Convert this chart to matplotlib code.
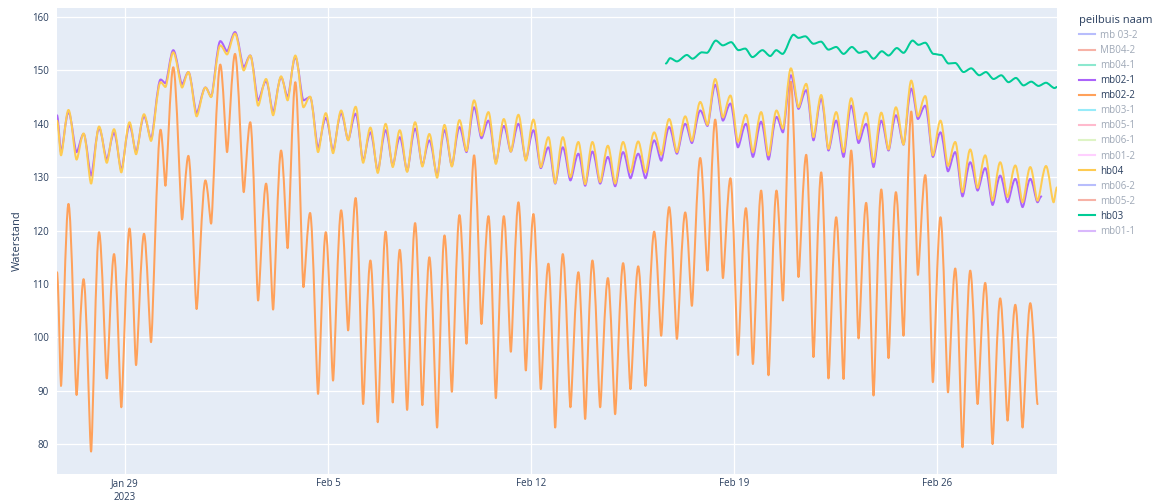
import numpy as np
import pandas as pd
import matplotlib
matplotlib.use("Agg")
import matplotlib.pyplot as plt
import matplotlib.dates as mdates
from matplotlib.lines import Line2D
from matplotlib.path import Path
from matplotlib.patches import PathPatch

plt.rcParams['font.family'] = ['Open Sans', 'DejaVu Sans']

# hours after 2023-01-26 00:00 of the tidal highs/lows (shared by mb02-1, mb02-2, hb04)
t_hours = [15.7, 19.0, 25.2, 31.9, 37.7, 43.9, 50.5, 56.9, 62.9, 68.9,
           75.7, 81.1, 87.7, 93.5, 101.4, 105.4, 111.9, 119.2, 124.4, 131.2,
           138.5, 143.2, 150.8, 156.4, 163.0, 170.2, 175.6, 182.1, 188.7, 194.5,
           201.1, 206.5, 212.9, 219.6, 225.1, 231.7, 238.1, 244.1, 250.8, 256.6,
           262.8, 269.0, 275.0, 281.1, 287.6, 293.5, 299.3, 305.4, 312.0, 318.0,
           323.8, 330.2, 336.3, 342.4, 348.7, 354.5, 360.8, 366.9, 372.7, 378.8,
           385.4, 391.2, 397.5, 403.6, 409.9, 416.0, 422.3, 427.9, 434.2, 440.5,
           447.1, 452.7, 458.7, 465.1, 471.5, 477.5, 484.1, 490.2, 496.6, 502.6,
           509.8, 515.6, 522.2, 528.6, 535.5, 541.0, 547.9, 553.9, 560.3, 566.7,
           572.9, 579.1, 585.7, 591.5, 598.3, 604.4, 611.0, 616.3, 622.9, 629.2,
           635.6, 641.6, 648.0, 654.0, 660.4, 666.5, 672.8, 678.9, 685.2, 691.3,
           697.7, 703.7, 709.8, 716.1, 722.5, 728.0, 734.1, 740.4, 746.7, 752.9,
           758.9, 764.9, 771.3, 777.4, 783.7, 789.8, 796.1, 802.2, 808.6, 814.6,
           821.0, 827.0]

mb02_2 = [112.2, 90.9, 125.0, 89.2, 110.9, 78.6, 119.7, 92.3, 115.6, 86.9,
          120.4, 94.8, 119.4, 99.1, 138.9, 128.4, 150.6, 122.1, 134.0, 105.3,
          129.4, 121.3, 151.1, 134.7, 153.1, 127.2, 140.3, 106.9, 128.8, 105.2,
          135.0, 116.7, 147.8, 109.4, 123.3, 89.4, 119.7, 91.9, 123.8, 101.3,
          126.1, 87.5, 114.4, 84.1, 119.8, 87.8, 116.4, 86.4, 121.4, 87.3,
          115.0, 83.1, 119.1, 89.8, 122.9, 98.8, 134.1, 102.5, 122.7, 88.6,
          122.7, 97.3, 125.3, 93.8, 123.1, 90.3, 113.8, 83.1, 115.6, 86.9,
          112.2, 84.7, 114.4, 86.9, 111.1, 85.6, 113.9, 90.3, 113.3, 90.9,
          119.8, 100.3, 124.4, 99.7, 123.4, 105.9, 133.6, 112.5, 140.8, 111.1,
          129.8, 96.7, 124.2, 95.0, 127.5, 92.9, 127.5, 106.9, 147.9, 111.3,
          134.2, 96.3, 130.9, 92.3, 122.5, 92.2, 135.0, 99.8, 125.2, 89.1,
          127.7, 96.1, 127.2, 100.3, 142.3, 111.7, 130.4, 91.6, 122.5, 89.7,
          112.9, 79.4, 112.5, 87.5, 110.2, 80.0, 107.3, 84.4, 106.1, 83.1,
          106.4, 87.5]

mb02_1 = [141.6, 134.7, 142.2, 134.7, 138.1, 130.3, 139.2, 133.3, 138.3, 131.4,
          139.7, 134.7, 141.4, 137.2, 148.3, 147.6, 153.8, 147.4, 149.7, 142.0,
          146.8, 145.1, 155.5, 153.6, 157.2, 150.6, 152.8, 144.4, 148.0, 142.2,
          148.7, 145.0, 152.5, 144.4, 145.0, 135.5, 141.1, 135.0, 142.0, 137.0,
          141.9, 133.1, 138.4, 131.2, 138.8, 132.2, 137.5, 131.2, 139.1, 132.3,
          136.9, 130.3, 138.8, 132.2, 139.4, 134.7, 143.1, 137.3, 140.6, 132.8,
          139.6, 134.8, 140.0, 133.3, 138.8, 131.7, 135.6, 128.8, 135.6, 129.4,
          134.4, 128.4, 134.8, 128.8, 133.8, 128.3, 134.7, 129.8, 134.4, 129.8,
          136.9, 133.1, 139.4, 134.4, 140.0, 136.4, 142.5, 139.6, 147.3, 140.6,
          143.8, 135.6, 140.0, 133.8, 140.4, 133.3, 141.3, 138.4, 149.1, 142.8,
          146.3, 136.9, 144.7, 135.0, 140.6, 133.8, 143.4, 136.4, 140.0, 131.9,
          140.6, 135.0, 141.6, 136.1, 146.6, 140.9, 143.4, 133.8, 138.4, 131.1,
          134.7, 126.4, 132.8, 127.5, 131.7, 124.8, 130.3, 125.3, 129.7, 124.4,
          129.7, 125.3]
mb02_1_tail_hours = [830.1]
mb02_1_tail = [126.4]

hb04 = [140.6, 134.1, 142.6, 133.3, 138.2, 128.8, 139.5, 132.7, 139.0, 130.9,
        140.3, 134.3, 141.8, 136.8, 147.8, 146.9, 153.4, 146.8, 149.7, 141.4,
        146.8, 145.0, 154.7, 153.0, 156.9, 150.0, 152.8, 143.4, 148.4, 141.6,
        148.9, 144.4, 152.8, 143.1, 145.1, 134.7, 142.0, 134.5, 142.5, 136.9,
        143.2, 132.7, 139.3, 130.8, 140.0, 131.9, 138.8, 131.0, 140.3, 132.0,
        138.1, 129.9, 139.8, 132.0, 140.7, 134.9, 144.4, 137.8, 142.2, 132.5,
        140.9, 134.8, 141.7, 133.1, 140.8, 131.9, 137.5, 128.9, 137.5, 130.0,
        136.6, 128.7, 136.6, 129.1, 135.9, 128.8, 136.6, 130.9, 136.7, 130.9,
        138.4, 134.2, 140.9, 134.7, 141.4, 136.8, 144.1, 139.8, 148.4, 141.2,
        145.3, 136.6, 141.7, 134.7, 142.2, 134.1, 142.5, 139.1, 150.4, 143.1,
        147.5, 137.5, 145.4, 135.3, 142.2, 134.7, 144.8, 137.2, 142.1, 132.8,
        142.1, 135.2, 143.1, 136.1, 148.1, 141.4, 145.2, 134.1, 140.6, 132.1,
        136.6, 127.2, 135.2, 128.0, 134.1, 125.6, 132.8, 126.3, 132.2, 125.3,
        131.9, 125.6]
hb04_tail_hours = [834.0, 840.3, 843.1]
hb04_tail = [132.1, 125.3, 128.1]

hb03_hours = [519.5, 523.0, 528.6, 536.9, 541.5, 549.3, 553.4, 560.8, 566.6, 573.5,
              579.6, 585.1, 591.1, 599.4, 605.8, 610.8, 616.0, 625.1, 629.2, 634.8,
              641.6, 647.8, 654.0, 660.4, 666.5, 673.4, 679.4, 685.0, 691.3, 698.2,
              703.7, 710.6, 716.1, 723.6, 728.5, 734.1, 740.9, 747.3, 753.4, 758.9,
              765.8, 772.1, 778.8, 784.3, 790.6, 797.0, 803.0, 809.1, 815.4, 821.8,
              827.8, 834.0, 841.1, 843.1]
hb03 = [151.3, 152.3, 151.7, 152.9, 152.2, 153.4, 153.3, 155.6, 154.7, 155.3,
        153.8, 154.1, 152.5, 153.8, 152.7, 153.8, 153.1, 156.7, 156.1, 156.4,
        155.0, 155.4, 153.9, 154.4, 153.1, 154.4, 153.3, 153.6, 152.2, 153.6,
        152.8, 154.2, 153.3, 155.6, 154.8, 155.2, 153.1, 152.9, 151.3, 151.4,
        149.7, 150.4, 149.1, 149.7, 148.4, 149.1, 147.8, 148.6, 147.2, 147.9,
        147.1, 147.7, 146.7, 146.9]

legend_names = ['mb 03-2', 'MB04-2', 'mb04-1', 'mb02-1', 'mb02-2', 'mb03-1', 'mb05-1',
                'mb06-1', 'mb01-2', 'hb04', 'mb06-2', 'mb05-2', 'hb03', 'mb01-1']
legend_colors = ['#636EFA', '#EF553B', '#00CC96', '#AB63FA', '#FFA15A', '#19D3F3', '#FF6692',
                 '#B6E880', '#FF97FF', '#FECB52', '#636EFA', '#EF553B', '#00CC96', '#AB63FA']
shown = ['mb02-1', 'mb02-2', 'hb04', 'hb03']

xtick_dates = ['2023-01-29', '2023-02-05', '2023-02-12', '2023-02-19', '2023-02-26']
xtick_labels = ['Jan 29\n2023', 'Feb 5', 'Feb 12', 'Feb 19', 'Feb 26']
yticks = [80, 90, 100, 110, 120, 130, 140, 150, 160]

start = pd.Timestamp('2023-01-26')


def to_time(hours):
    return start + pd.to_timedelta(np.asarray(hours, dtype=float), unit='h')


def smooth_line(ax, hours, values, color, peak_k=0.4, trough_k=0.2, lw=1.45):
    """Draw the highs/lows as a smooth curve (flat tangent at every high/low)."""
    x = mdates.date2num(to_time(hours))
    verts = [(x[0], values[0])]
    codes = [Path.MOVETO]
    for i in range(1, len(x)):
        dx = x[i] - x[i - 1]
        k0 = peak_k if values[i - 1] >= values[i] else trough_k
        k1 = peak_k if values[i] >= values[i - 1] else trough_k
        verts += [(x[i - 1] + k0 * dx, values[i - 1]),
                  (x[i] - k1 * dx, values[i]),
                  (x[i], values[i])]
        codes += [Path.CURVE4] * 3
    ax.add_patch(PathPatch(Path(verts, codes), fill=False, edgecolor=color,
                           lw=lw, joinstyle='round', capstyle='round'))


text_col = '#2a3f5f'
fig = plt.figure(figsize=(11.59, 5.01), dpi=100)
ax = fig.add_axes([57 / 1159, 1 - 474 / 501, 1000 / 1159, 466 / 501])
ax.set_facecolor('#E5ECF6')
ax.xaxis_date()
for s in ax.spines.values():
    s.set_visible(False)

col = dict(zip(legend_names, legend_colors))
smooth_line(ax, t_hours + mb02_1_tail_hours, mb02_1 + mb02_1_tail, col['mb02-1'], 0.35, 0.25)
smooth_line(ax, t_hours, mb02_2, col['mb02-2'], 0.36, 0.18)
smooth_line(ax, t_hours + hb04_tail_hours, hb04 + hb04_tail, col['hb04'], 0.35, 0.25)
smooth_line(ax, hb03_hours, hb03, col['hb03'], 0.3, 0.3)

ax.set_xlim(to_time([t_hours[0]])[0], to_time([hb04_tail_hours[-1]])[0])
ax.set_ylim(74.4, 161.7)
ax.set_yticks(yticks)
ax.set_xticks(pd.to_datetime(xtick_dates))
ax.set_xticklabels(xtick_labels)
ax.grid(True, color='white', lw=0.9)
ax.set_axisbelow(True)
ax.tick_params(length=0, labelsize=7, labelcolor=text_col)
ax.tick_params(axis='y', pad=6)
ax.tick_params(axis='x', pad=3)
for lab in ax.get_xticklabels():
    lab.set_linespacing(1.3)
ax.set_ylabel('Waterstand', fontsize=8, color=text_col)
ax.yaxis.set_label_coords(-0.034, 0.5)

handles = []
for name, c in zip(legend_names, legend_colors):
    a = 1.0 if name in shown else 0.45
    handles.append(Line2D([], [], color=c, lw=1.5, alpha=a))
leg = fig.legend(handles, legend_names, loc='upper left',
                 bbox_to_anchor=(1072 / 1159, 1 - 8 / 501), frameon=False,
                 fontsize=7, title='peilbuis naam', title_fontsize=8,
                 handlelength=1.7, handletextpad=0.5, labelspacing=0.42,
                 borderpad=0.2, alignment='left')
leg.get_title().set_color(text_col)
for txt, name in zip(leg.get_texts(), legend_names):
    txt.set_color(text_col)
    if name not in shown:
        txt.set_alpha(0.45)

fig.savefig('out.png', dpi=100)
